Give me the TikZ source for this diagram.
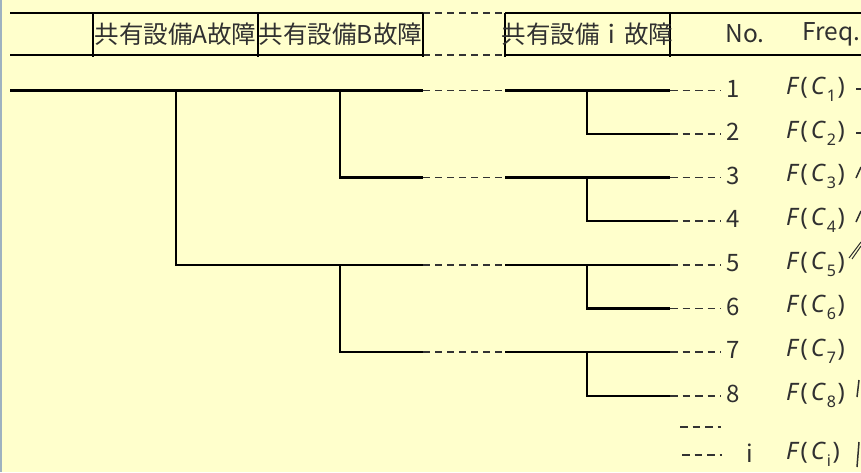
\documentclass[tikz,border=0pt]{standalone}
\usepackage{fontspec}
\setmainfont{Noto Sans CJK JP}
\newfontfamily\mfont{Noto Sans}
\definecolor{bg}{HTML}{FFFFCC}
\definecolor{edgec}{HTML}{9EB2C0}
\definecolor{txt}{HTML}{303030}
\newcommand{\FC}[1]{{\itshape F}\hspace{3pt}(\hspace{3pt}{\itshape C}\hspace{2pt}\raisebox{-0.3em}{\fontsize{16}{18}\selectfont #1}\hspace{1.5pt})}
\begin{document}
\begin{tikzpicture}[x=1pt,y=-1pt,
  tline/.style={line width=2.2pt, black},
  dashl/.style={line width=1.6pt, black!80, dash pattern=on 7pt off 5pt},
  dotl/.style={line width=1.4pt, black!80, dash pattern=on 7.5pt off 5pt},
  hdr/.style={font=\fontsize{24.5}{28}\selectfont, text=txt, inner sep=0pt},
  num/.style={font=\fontsize{24}{28}\selectfont, text=txt, inner sep=1pt},
  freq/.style={font=\mfont\fontsize{24}{28}\selectfont, text=txt, inner sep=0pt, anchor=west},
  frag/.style={line width=1.5pt, txt}]
\fill[bg] (0,0) rectangle (861,472);
\useasboundingbox (0,0) rectangle (861,472);
\draw[edgec, line width=1.5pt] (0.75,0) -- (0.75,472);

% header frame
\coordinate (hTL) at (10,13);
\coordinate (hBL) at (10,55);
\coordinate (hTA) at (93,13);   \coordinate (hBA) at (93,57);
\coordinate (hTB) at (258,13);  \coordinate (hBB) at (258,57);
\coordinate (hTD) at (423,13);  \coordinate (hBD) at (423,57);
\coordinate (hTI) at (505,13);  \coordinate (hBI) at (505,57);
\coordinate (hTN) at (670,13);  \coordinate (hBN) at (670,57);
\coordinate (hTR) at (861,13);
\coordinate (hBR) at (861,55);
\draw[tline] (hTL) -- (hTD);
\draw[tline] (hBL) -- (hBD |- hBL);
\draw[dashl] (hTD) -- (hTI);
\draw[dashl] (hBD |- hBL) -- (hBI |- hBL);
\draw[tline] (hTI) -- (hTR);
\draw[tline] (hBI |- hBR) -- (hBR);
\foreach \c in {A,B,D,I,N} \draw[tline] (hT\c) -- (hB\c);

\node[hdr] (tA) at (175.5,34) {共有設備A故障};
\node[hdr] (tB) at (340.5,34) {共有設備B故障};
\node[hdr] (tI) at (587.5,34) {共有設備ｉ故障};
\node[hdr] (tNo) at (745,34) {No.};
\node[hdr, anchor=west] (tFr) at (802,34) {Freq.};

% rows
\foreach \k/\y in {1/90.5,2/134,3/177.5,4/221,5/265,6/308.5,7/352,8/396}{
  \coordinate (t\k) at (670,\y);
  \coordinate (d\k) at (721,\y);
  \node[num] (n\k) at (733,\y-2) {\k};
  \node[freq] (f\k) at (786,\y-1) {\FC{\k}};
  \draw[dotl] (t\k) -- (d\k);
}
\foreach \k/\y in {1/90.5,3/177.5,5/265,7/352}{
  \coordinate (e\k) at (423,\y);
  \coordinate (s\k) at (505,\y);
  \coordinate (i\k) at (587,\y);
  \draw[dashl] (e\k) -- (s\k);
  \draw[tline] (s\k) -- (t\k);
}
\foreach \k/\j in {2/1,4/3,6/5,8/7}
  \draw[tline] (i\j) |- (t\k);

\coordinate (root) at (10,90.5);
\coordinate (a1) at (176,90.5);
\coordinate (b1) at (340,90.5);
\coordinate (b5) at (340,265);
\draw[tline] (root) -- (e1);
\draw[tline] (a1) |- (e5);
\draw[tline] (b1) |- (e3);
\draw[tline] (b5) |- (e7);

% extra rows
\coordinate (x1) at (680,427); \coordinate (x2) at (721,427);
\draw[dotl] (x1) -- (x2);
\coordinate (y1) at (682,455); \coordinate (y2) at (722,455);
\draw[dotl] (y1) -- (y2);
\node[num] (ni) at (750,453) {i};
\node[freq] (fi) at (786,454) {\FC{i}};

% cut-off fragments at right edge
\draw[frag] (856,89) -- (861,89);
\draw[frag] (856,133) -- (861,133);
\draw[frag] (856,178) -- (861,167);
\draw[frag] (856,222) -- (861,211);
\draw[line width=1pt, txt] (849,258) -- (861,242);
\draw[line width=1pt, txt] (852,259) -- (861,246);
\draw[frag] (857,397) -- (859,380);
\draw[frag] (857,467) -- (859,442);
\end{tikzpicture}
\end{document}
